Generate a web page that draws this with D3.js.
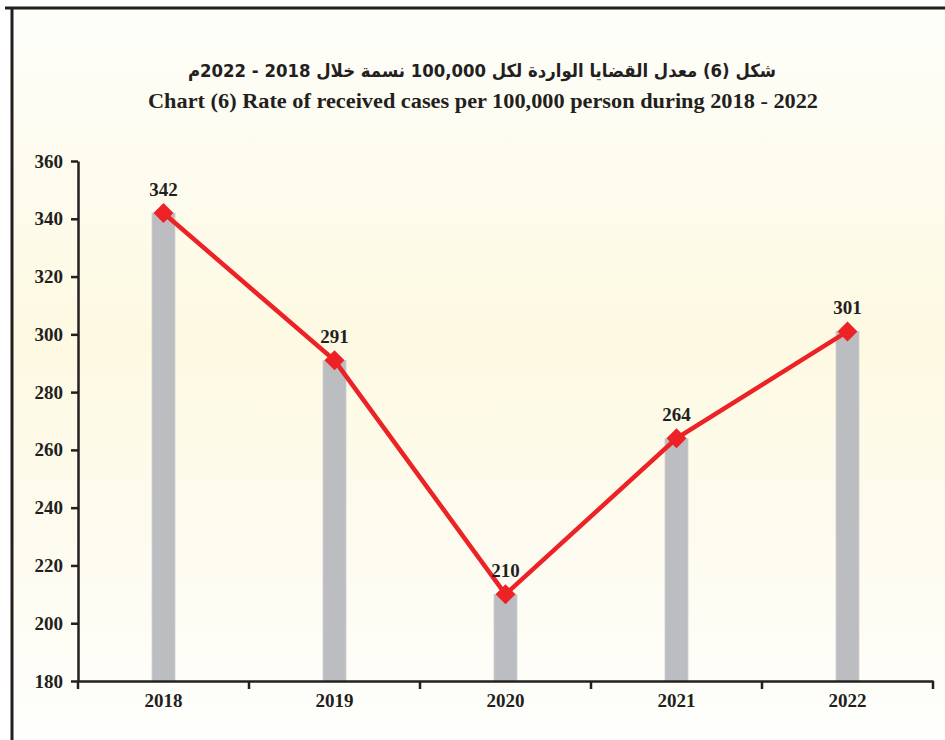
<!DOCTYPE html>
<html><head><meta charset="utf-8">
<script src="https://cdn.jsdelivr.net/npm/d3@7/dist/d3.min.js"></script>
<style>html,body{margin:0;padding:0;background:#fff;}svg{display:block;}</style>
</head><body>
<svg id="c" width="945" height="740"></svg>
<script>
const categories = ["2018","2019","2020","2021","2022"];
const values = [342, 291, 210, 264, 301];
const yTicks = [180,200,220,240,260,280,300,320,340,360];
const titleAr = "شكل (6) معدل القضايا الواردة لكل 100,000 نسمة خلال 2018 - 2022م";
const titleEn = "Chart (6) Rate of received cases per 100,000 person during 2018 - 2022";

(function(){
const svg = d3.select("#c");
const defs = svg.append("defs");
const g = defs.append("linearGradient").attr("id","bg").attr("x1",0).attr("y1",0).attr("x2",0).attr("y2",1);
g.append("stop").attr("offset","0%").attr("stop-color","#fefefa");
g.append("stop").attr("offset","45%").attr("stop-color","#fdf9e2");
g.append("stop").attr("offset","100%").attr("stop-color","#fefefc");
svg.append("rect").attr("x",12).attr("y",8).attr("width",933).attr("height",732).attr("fill","url(#bg)");
svg.append("line").attr("x1",5).attr("x2",945).attr("y1",8).attr("y2",8).attr("stroke","#231f20").attr("stroke-width",3);
svg.append("line").attr("x1",12).attr("x2",12).attr("y1",7).attr("y2",740).attr("stroke","#231f20").attr("stroke-width",3);

svg.append("text").attr("x",482).attr("y",77).attr("text-anchor","middle")
  .attr("direction","rtl")
  .attr("font-family","'DejaVu Sans', 'Noto Sans', sans-serif").attr("font-weight","bold")
  .attr("font-size",18).attr("fill","#231f20")
  .attr("textLength",588).attr("lengthAdjust","spacingAndGlyphs").text(titleAr);
svg.append("text").attr("x",483).attr("y",108).attr("text-anchor","middle")
  .attr("font-family","'Liberation Serif', serif").attr("font-weight","bold")
  .attr("font-size",20).attr("fill","#231f20")
  .attr("textLength",670).attr("lengthAdjust","spacingAndGlyphs").text(titleEn);

const mLeft = 78, mRight = 933, mTop = 161, mBottom = 681;
const x = d3.scaleBand().domain(categories).range([mLeft,mRight]);
const y = d3.scaleLinear().domain([180,360]).range([mBottom,mTop]);

const barW = 23;
svg.append("g").selectAll("rect").data(values).join("rect")
  .attr("x",(d,i)=>x(categories[i])+x.bandwidth()/2-barW/2)
  .attr("y",d=>y(d)).attr("width",barW).attr("height",d=>y(180)-y(d))
  .attr("fill","#bcbdc1").attr("stroke","#cfd0d3").attr("stroke-width",0.8);

const ya = svg.append("g").attr("transform",`translate(${mLeft},0)`)
  .call(d3.axisLeft(y).tickValues(yTicks).tickSize(7).tickPadding(8).tickSizeOuter(0));
ya.select(".domain").attr("stroke","#231f20").attr("stroke-width",2.5);
ya.selectAll(".tick line").attr("stroke","#231f20").attr("stroke-width",2.5);
ya.selectAll("text").attr("font-family","'Liberation Serif', serif").attr("font-weight","bold")
  .attr("font-size",19).attr("fill","#231f20");

const xa = svg.append("g").attr("transform",`translate(0,${mBottom})`)
  .call(d3.axisBottom(x).tickSize(0).tickPadding(13).tickSizeOuter(0));
xa.select(".domain").attr("stroke","#231f20").attr("stroke-width",2.5);
xa.selectAll("text").attr("font-family","'Liberation Serif', serif").attr("font-weight","bold")
  .attr("font-size",19).attr("fill","#231f20");
const bounds = categories.map(c=>x(c)).concat([mRight]);
xa.append("g").selectAll("line").data(bounds).join("line")
  .attr("x1",d=>d).attr("x2",d=>d).attr("y1",0).attr("y2",8)
  .attr("stroke","#231f20").attr("stroke-width",2.5);

const cx = (d,i)=>x(categories[i])+x.bandwidth()/2;
svg.append("path").datum(values)
  .attr("d",d3.line().x(cx).y(d=>y(d)))
  .attr("fill","none").attr("stroke","#ec2227").attr("stroke-width",4.5);
svg.append("g").selectAll("path").data(values).join("path")
  .attr("transform",(d,i)=>`translate(${cx(d,i)},${y(d)}) rotate(45)`)
  .attr("d",d3.symbol().type(d3.symbolSquare).size(200))
  .attr("fill","#ec2227");

svg.append("g").selectAll("text").data(values).join("text")
  .attr("x",cx).attr("y",d=>y(d)-17).attr("text-anchor","middle")
  .attr("font-family","'Liberation Serif', serif").attr("font-weight","bold")
  .attr("font-size",19).attr("fill","#231f20").text(d=>d);
})();
</script>
</body></html>
